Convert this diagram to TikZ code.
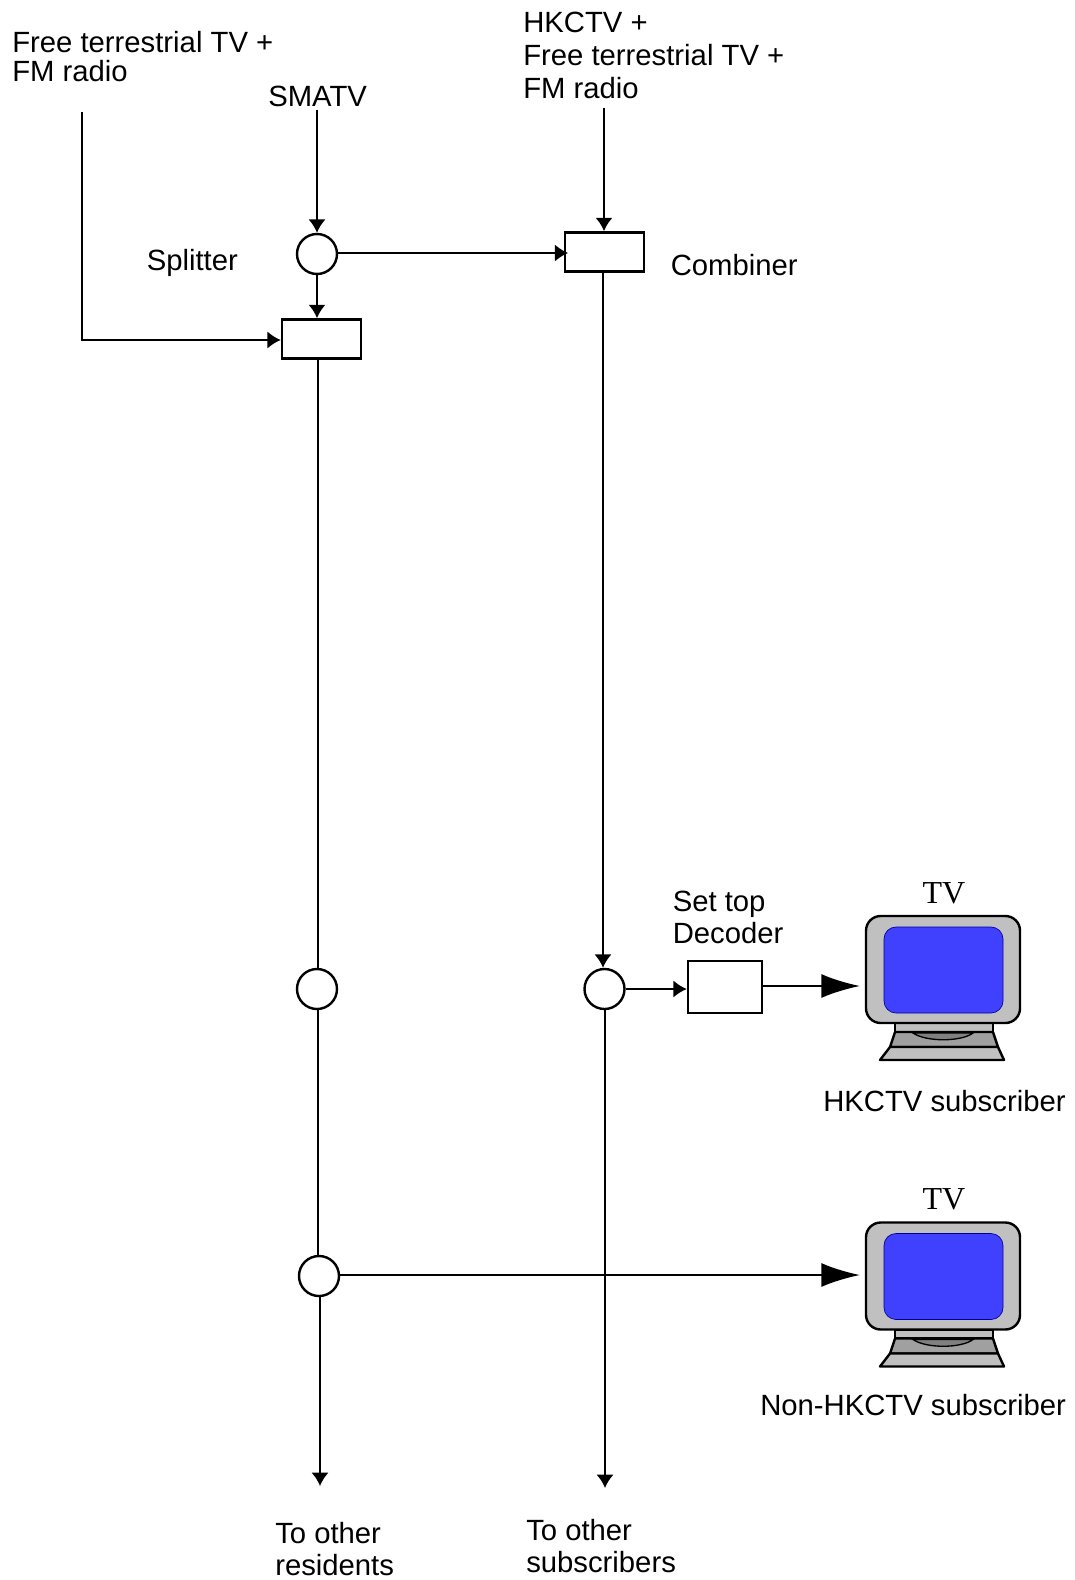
\documentclass[tikz,border=0pt]{standalone}
\usepackage{fontspec}
\setmainfont{Liberation Sans}
\newfontfamily\tvfont{Liberation Serif}
\usetikzlibrary{arrows.meta,calc}
\definecolor{tvgray}{HTML}{C0C0C0}
\definecolor{tvdark}{HTML}{A0A0A0}
\definecolor{tvblue}{HTML}{4040FF}
\tikzset{
  line/.style={draw=black,line width=1.8pt},
  wire/.style={line,-{Latex[length=10pt,width=13pt]}},
  bigwire/.style={line,-{Latex[length=29pt,width=18pt]}},
  circ/.style={circle,draw=black,line width=1.8pt,fill=white,minimum size=30pt,inner sep=0pt},
  boxn/.style={rectangle,draw=black,line width=1.8pt,fill=white,inner sep=0pt},
  lab/.style={anchor=west,inner sep=0pt,align=left,font=\fontsize{21.95}{22.4}\selectfont},
  labw/.style={lab,font=\fontsize{21.95}{24.8}\selectfont},
  labh/.style={lab,font=\fontsize{21.95}{23.6}\selectfont},
  tvlab/.style={inner sep=0pt,font=\tvfont\fontsize{24}{24}\selectfont},
  pics/tvset/.style={code={
    \draw[line,fill=tvgray,line join=round] (29,116) -- (127,116) -- (127,125) -- (29,125) -- cycle;
    \draw[line,fill=tvdark,line join=round] (29,125) -- (127,125) -- (132,140) -- (24,140) -- cycle;
    \draw[line,fill=tvgray,line join=round] (24,140) -- (132,140) -- (138,153) -- (14,153) -- cycle;
    \draw[line width=1pt,fill=gray] (47,126) .. controls (60,135) and (95,135) .. (107,126) -- cycle;
    \draw[line,fill=tvgray,rounded corners=11pt] (0,9) rectangle (154,116);
    \draw[draw=blue!60!black,line width=.5pt,fill=tvblue,rounded corners=9pt] (18,20) rectangle (137,106);
  }}
}
\begin{document}
\begin{tikzpicture}[x=0.75pt,y=-0.75pt]
\useasboundingbox (0,0) rectangle (1074,1580);

% text
\node[lab] (tfree) at (12,56.5) {Free terrestrial TV +\\FM radio};
\node[lab] (tsmatv) at (268,96) {SMATV};
\node[labw] (thk) at (523,55.5) {HKCTV +\\Free terrestrial TV +\\FM radio};
\node[lab] (tsplit) at (146.5,263) {Splitter};
\node[lab] (tcomb) at (670.5,265) {Combiner};
\node[labh] (tset) at (672.5,917.5) {Set top\\Decoder};
\node[lab] (thksub) at (823,1101) {HKCTV subscriber};
\node[lab] (tnon) at (760,1405) {Non-HKCTV subscriber};
\node[labh] (tres) at (275,1549) {To other\\residents};
\node[labh] (tsub) at (526,1546) {To other\\subscribers};

% junctions and boxes
\node[circ] (spl) at (317,254) {};
\node[boxn,minimum width=59.25pt,minimum height=29.5pt] (comb) at (604.5,252) {};
\node[boxn,minimum width=59.25pt,minimum height=29.5pt] (comb2) at (321.5,339) {};
\node[circ] (c1) at (317,989) {};
\node[circ] (c2) at (319,1276) {};
\node[circ] (c3) at (604.5,989) {};
\node[boxn,minimum width=55.5pt,minimum height=39pt] (dec) at (725,987) {};

% free ends
\coordinate (free) at (82,112);
\coordinate (smatv) at (317,110);
\coordinate (hk) at (604,108);
\coordinate (endres) at (320,1486);
\coordinate (endsub) at (605,1488);
\coordinate (busa) at (318,0);
\coordinate (busb) at (603,0);
\coordinate (busc) at (320,0);
\coordinate (busd) at (605,0);

% televisions
\coordinate (tv1) at (866,907);
\coordinate (tv2) at (866,1213.5);
\pic at (tv1) {tvset};
\pic at (tv2) {tvset};
\node[tvlab] (ttv1) at (944,893.5) {TV};
\node[tvlab] (ttv2) at (944,1199.5) {TV};

% connectors
\draw[wire] (smatv) -- (spl.north);
\draw[wire] (hk) -- (hk |- comb.north);
\draw[wire] (free) -- (free |- 0,340) -- (comb2.west |- 0,340);
\draw[wire] (spl.south) -- (spl.south |- comb2.north);
\draw[wire] (spl.east) ++(0,-1) -- ++(230,0);
\draw[line] (busa |- comb2.south) -- (busa |- c1.north);
\draw[line] (busa |- c1.south) -- (busa |- c2.north);
\draw[wire] (busc |- c2.south) -- (endres);
\draw[wire] (busb |- comb.south) -- (busb |- c3.north);
\draw[wire] (busd |- c3.south) -- (endsub);
\draw[wire] (c3.east) -- (c3.east -| dec.west);
\draw[bigwire] (dec.east |- 0,986) -- (860,986);
\draw[bigwire] (c2.east) ++(0,-1) -- (860,1275);
\end{tikzpicture}
\end{document}
